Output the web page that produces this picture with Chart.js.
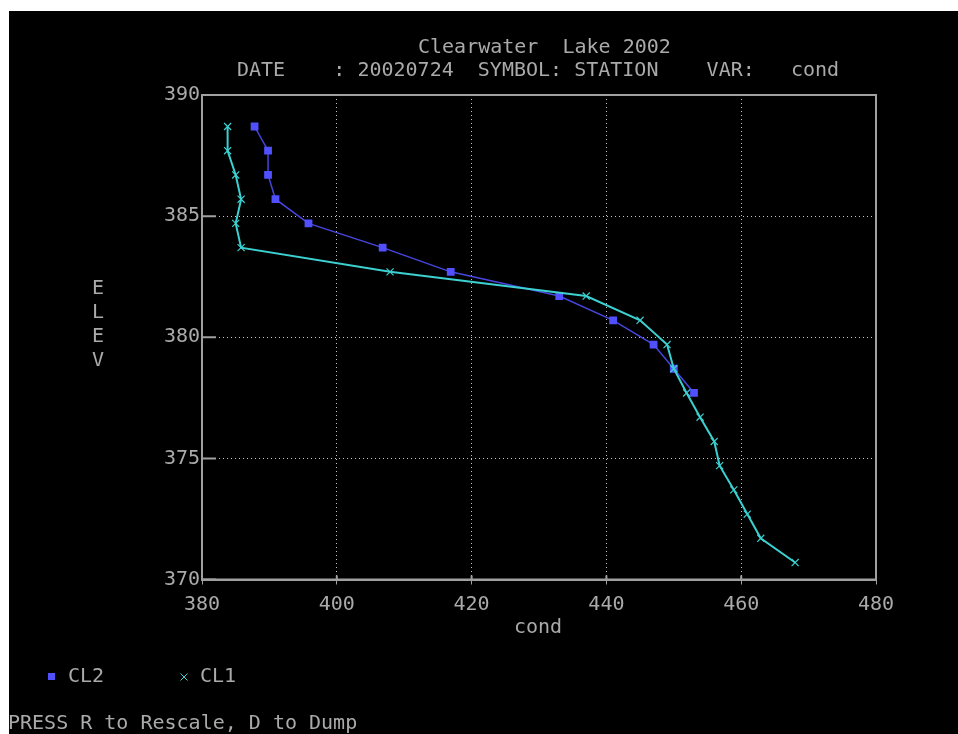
<!DOCTYPE html>
<html>
<head>
<meta charset="utf-8">
<title>Clearwater Lake 2002 - cond</title>
<script src="https://cdn.jsdelivr.net/npm/chart.js@4/dist/chart.umd.min.js"></script>
<style>
  html, body { margin: 0; padding: 0; background: #fff; }
  canvas { display: block; }
</style>
</head>
<body>
<canvas id="screen" width="958" height="734"></canvas>
<script>
// station CL2 (squares)
const cl2Elev = [388.7, 387.7, 386.7, 385.7, 384.7, 383.7, 382.7, 381.7, 380.7, 379.7, 378.7, 377.7];
const cl2Cond = [387.8, 389.8, 389.8, 390.9, 395.8, 406.8, 416.9, 433.0, 441.0, 447.0, 450.0, 453.0];

// station CL1 (crosses)
const cl1Elev = [388.7, 387.7, 386.7, 385.7, 384.7, 383.7, 382.7, 381.7, 380.7, 379.7,
                 378.7, 377.7, 376.7, 375.7, 374.7, 373.7, 372.7, 371.7, 370.7];
const cl1Cond = [383.8, 383.8, 385.0, 385.8, 385.0, 385.8, 407.9, 437.0, 445.0, 449.0,
                 450.0, 451.9, 453.9, 456.0, 456.8, 458.9, 460.9, 462.9, 468.0];

const xTicks = [380, 400, 420, 440, 460, 480];
const yTicks = [370, 375, 380, 385, 390];

const titleLine1 = 'Clearwater  Lake 2002';
const titleLine2 = 'DATE    : 20020724  SYMBOL: STATION    VAR:   cond';
const xTitle = 'cond';
const yTitle = ['E', 'L', 'E', 'V'];
const footer = 'PRESS R to Rescale, D to Dump';

const GREY = '#aaaaaa';
const BLUE = '#5050ff';
const BLUE_LINE = '#4646dc';
const CYAN = '#3cd0d0';
const FONT = '20px "DejaVu Sans Mono"';

const toPoints = (xs, ys) => xs.map((x, i) => ({x: x, y: ys[i]}));

// draws the black "screen", frame, inner ticks and the text around the plot
const screenPlugin = {
    id: 'screen',
    beforeDraw(chart) {
        const ctx = chart.ctx;
        ctx.save();
        ctx.fillStyle = '#fff';
        ctx.fillRect(0, 0, chart.width, chart.height);
        ctx.fillStyle = '#000';
        ctx.fillRect(9, 11, chart.width - 9, chart.height - 11);
        ctx.restore();
    },
    beforeDatasetsDraw(chart) {
        const ctx = chart.ctx;
        const area = chart.chartArea;
        const xs = chart.scales.x;
        const ys = chart.scales.y;
        ctx.save();
        ctx.strokeStyle = '#a0a0a0';
        ctx.lineWidth = 2;
        ctx.strokeRect(area.left, area.top, area.right - area.left, area.bottom - area.top);
        ctx.beginPath();
        yTicks.forEach(v => {
            const py = ys.getPixelForValue(v);
            ctx.moveTo(area.left, py);
            ctx.lineTo(area.left + 14, py);
        });
        xTicks.forEach(v => {
            const px = xs.getPixelForValue(v);
            ctx.moveTo(px, area.bottom);
            ctx.lineTo(px, area.bottom - 4);
        });
        ctx.stroke();
        ctx.restore();
    },
    afterDraw(chart) {
        const ctx = chart.ctx;
        ctx.save();
        ctx.font = FONT;
        ctx.fillStyle = GREY;
        ctx.textBaseline = 'middle';
        ctx.textAlign = 'left';
        ctx.fillText(titleLine1, 418, 48);
        ctx.fillText(titleLine2, 237, 71);
        ctx.fillText(footer, 8, 724);

        ctx.textAlign = 'center';
        ctx.fillText(xTitle, 538, 628);
        yTitle.forEach((ch, i) => ctx.fillText(ch, 98, 289 + i * 24));

        // legend
        ctx.textAlign = 'left';
        ctx.fillStyle = BLUE;
        ctx.fillRect(48, 673, 7, 7);
        ctx.fillStyle = GREY;
        ctx.fillText('CL2', 68, 677);
        ctx.fillText('CL1', 200, 677);
        ctx.strokeStyle = CYAN;
        ctx.lineWidth = 1;
        ctx.beginPath();
        ctx.moveTo(180.5, 673.5); ctx.lineTo(187.5, 680.5);
        ctx.moveTo(187.5, 673.5); ctx.lineTo(180.5, 680.5);
        ctx.stroke();
        ctx.restore();
    }
};

Chart.defaults.font.family = '"DejaVu Sans Mono"';
Chart.defaults.font.size = 20;
Chart.defaults.color = GREY;

const chart = new Chart(document.getElementById('screen').getContext('2d'), {
    type: 'scatter',
    data: {
        datasets: [
            {
                label: 'CL2',
                data: toPoints(cl2Cond, cl2Elev),
                showLine: true,
                order: 1,
                borderColor: BLUE_LINE,
                borderWidth: 1.5,
                pointStyle: 'rect',
                pointRadius: 5.5,
                pointBackgroundColor: BLUE,
                pointBorderColor: BLUE,
                pointBorderWidth: 0
            },
            {
                label: 'CL1',
                data: toPoints(cl1Cond, cl1Elev),
                showLine: true,
                order: 0,
                borderColor: CYAN,
                borderWidth: 2,
                pointStyle: 'crossRot',
                pointRadius: 5,
                pointBorderColor: CYAN,
                pointBorderWidth: 1.2
            }
        ]
    },
    options: {
        responsive: false,
        animation: false,
        devicePixelRatio: 1,
        layout: {
            padding: {left: 0, top: 95, right: 82, bottom: 0}
        },
        plugins: {
            legend: {display: false},
            tooltip: {enabled: false},
            title: {display: false}
        },
        scales: {
            x: {
                type: 'linear',
                min: 380,
                max: 480,
                afterFit: (scale) => { scale.height = 154.5; },
                afterBuildTicks: (scale) => { scale.ticks = xTicks.map(v => ({value: v})); },
                ticks: {color: GREY, padding: 8, maxRotation: 0},
                grid: {
                    color: '#c4c4c4',
                    lineWidth: 1,
                    drawTicks: true,
                    tickLength: 5,
                    tickColor: '#a0a0a0',
                    tickBorderDash: []
                },
                border: {display: true, color: '#a0a0a0', width: 2, dash: [1, 3]}
            },
            y: {
                type: 'linear',
                min: 370,
                max: 390,
                afterFit: (scale) => { scale.width = 202; },
                afterBuildTicks: (scale) => { scale.ticks = yTicks.map(v => ({value: v})); },
                ticks: {color: GREY, padding: 2},
                grid: {
                    color: '#c4c4c4',
                    lineWidth: 1,
                    drawTicks: false
                },
                border: {display: true, color: '#a0a0a0', width: 2, dash: [1, 3]}
            }
        }
    },
    plugins: [screenPlugin]
});
</script>
</body>
</html>
